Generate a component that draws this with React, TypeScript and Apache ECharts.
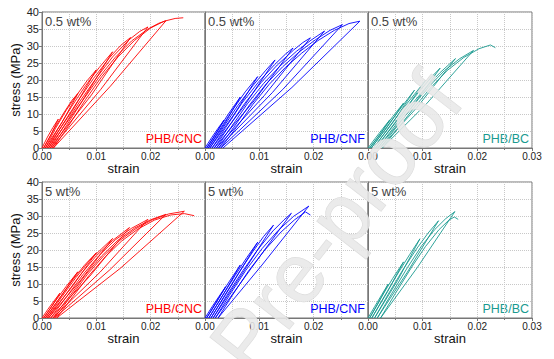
import React, { useEffect, useRef } from "react";
import * as echarts from "echarts";

// strain, stress (MPa) — cyclic loading/unloading curves
const cncLow: number[][] = [
  [0, 0], [0.001, 3.2], [0.002, 6], [0.003, 8.5], [0.0017, 4.0], [0.0003, 0],
  [0.002, 5], [0.004, 10.3], [0.0055, 14], [0.0066, 16], [0.0037, 7.6], [0.0006, 0],
  [0.0025, 5.8], [0.0045, 11.2], [0.0065, 15.8], [0.0083, 19.8], [0.01, 23], [0.0056, 11.0], [0.0009, 0],
  [0.003, 5.8], [0.0055, 12.3], [0.008, 18.3], [0.0105, 23.6], [0.013, 28.3], [0.0073, 13.6], [0.0012, 0],
  [0.0035, 6.2], [0.0065, 13.6], [0.0095, 20.5], [0.0125, 26.7], [0.0145, 30.2], [0.0163, 32.5], [0.0091, 15.6], [0.0015, 0],
  [0.004, 6.4], [0.007, 13.8], [0.01, 20.6], [0.013, 26.8], [0.016, 31.8], [0.018, 34.3], [0.0195, 35.6], [0.0108, 17.2], [0.0018, 0],
  [0.0045, 6.6], [0.0075, 14], [0.0105, 20.8], [0.0135, 26.7], [0.0165, 31.5], [0.0195, 35], [0.0215, 36.7], [0.0228, 37.4], [0.0126, 18.2], [0.0021, 0],
  [0.005, 6.8], [0.008, 14.2], [0.011, 21], [0.014, 26.8], [0.017, 31.6], [0.02, 35.3], [0.0225, 37.3], [0.0245, 38.1], [0.026, 38.3]
];
const cnfLow: number[][] = [
  [0, 0], [0.0012, 3], [0.0024, 5.8], [0.0035, 8.2], [0.0019, 3.9], [0.0003, 0],
  [0.0022, 4.8], [0.0043, 10], [0.0065, 15], [0.0036, 7.1], [0.0006, 0],
  [0.0028, 5.6], [0.005, 11], [0.0074, 16.5], [0.0097, 21], [0.0054, 10], [0.0009, 0],
  [0.0033, 5.9], [0.006, 12.4], [0.0088, 18.3], [0.0111, 22.7], [0.0129, 25.9], [0.0072, 12.3], [0.0013, 0],
  [0.0038, 6], [0.0068, 13.2], [0.0098, 19.3], [0.0128, 24.5], [0.0148, 27.6], [0.0162, 29.4], [0.0091, 14], [0.0017, 0],
  [0.0043, 6.1], [0.0073, 13.1], [0.0103, 19.2], [0.0133, 24.4], [0.0163, 28.8], [0.018, 31], [0.0194, 32.4], [0.0109, 15.4], [0.0021, 0],
  [0.0048, 6.1], [0.0078, 13], [0.0108, 19], [0.0138, 24.1], [0.0168, 28.4], [0.0195, 31.7], [0.022, 34.4], [0.0124, 16.3], [0.0025, 0],
  [0.0053, 6.1], [0.0083, 12.9], [0.0113, 18.9], [0.0143, 23.9], [0.0173, 28.2], [0.0203, 31.8], [0.023, 34.6], [0.0253, 36.3], [0.0143, 17.2], [0.0029, 0],
  [0.0058, 6.1], [0.0088, 12.8], [0.0118, 18.7], [0.0148, 23.7], [0.0178, 27.9], [0.0208, 31.6], [0.0238, 34.6], [0.0265, 36.6], [0.0285, 37.3], [0.016, 17.8], [0.0033, 0]
];
const bcLow: number[][] = [
  [0, 0], [0.0013, 2.8], [0.0027, 5.7], [0.004, 8.3], [0.0021, 3.8], [0.0003, 0],
  [0.0024, 4.5], [0.0045, 9.2], [0.0065, 13.2], [0.0034, 5.9], [0.0006, 0],
  [0.0028, 4.8], [0.0052, 10], [0.0072, 14.3], [0.0085, 17], [0.0046, 7.6], [0.001, 0],
  [0.0035, 5.4], [0.006, 10.8], [0.0085, 15.8], [0.0105, 19.8], [0.0058, 9], [0.0014, 0],
  [0.004, 5.5], [0.0068, 11.4], [0.0095, 16.9], [0.0118, 21.2], [0.0132, 23.5], [0.0074, 10.6], [0.0018, 0],
  [0.0045, 5.6], [0.0075, 11.9], [0.0105, 17.6], [0.0132, 22.2], [0.016, 26.3], [0.009, 12], [0.0022, 0],
  [0.005, 5.7], [0.008, 12], [0.011, 17.8], [0.014, 22.8], [0.0168, 26.3], [0.0193, 28.7], [0.0107, 13], [0.0026, 0],
  [0.0055, 5.8], [0.0085, 12], [0.0115, 17.8], [0.0145, 22.8], [0.0175, 26.6], [0.0203, 29.2], [0.0224, 30.3], [0.0233, 29.5]
];
const cncHigh: number[][] = [
  [0, 0], [0.0011, 2.6], [0.0022, 5], [0.0033, 7.3], [0.0018, 3.4], [0.0003, 0],
  [0.0022, 4.4], [0.0044, 9.2], [0.0066, 13.6], [0.0035, 6.4], [0.0006, 0],
  [0.003, 5.3], [0.0055, 10.9], [0.0078, 15.5], [0.01, 19.2], [0.0054, 8.9], [0.0009, 0],
  [0.0035, 5.9], [0.0062, 11.8], [0.0088, 17], [0.011, 20.4], [0.013, 23.4], [0.007, 10.9], [0.0012, 0],
  [0.004, 6.1], [0.007, 12.6], [0.01, 18.3], [0.013, 22.8], [0.0161, 26.6], [0.0088, 12.3], [0.0016, 0],
  [0.0045, 6.2], [0.0075, 12.7], [0.0105, 18.4], [0.0135, 23], [0.0165, 26.4], [0.0195, 29], [0.0107, 13.5], [0.002, 0],
  [0.005, 6.3], [0.008, 12.7], [0.011, 18.3], [0.014, 22.9], [0.017, 26.4], [0.02, 28.9], [0.0228, 30.5], [0.0125, 14.2], [0.0023, 0],
  [0.0053, 6.3], [0.0083, 12.7], [0.0113, 18.2], [0.0143, 22.8], [0.0173, 26.3], [0.0203, 28.9], [0.0233, 30.6], [0.0262, 31.4], [0.0144, 14.6], [0.0027, 0],
  [0.0057, 6.3], [0.0087, 12.6], [0.0117, 18.1], [0.0147, 22.7], [0.0177, 26.2], [0.0207, 28.8], [0.0237, 30.3], [0.0262, 30.7], [0.028, 30.1]
];
const cnfHigh: number[][] = [
  [0, 0], [0.0013, 3.3], [0.0026, 6.4], [0.0038, 9.2], [0.002, 4.3], [0.0003, 0],
  [0.0024, 5.6], [0.0045, 10.8], [0.0065, 15.6], [0.0035, 7.3], [0.0007, 0],
  [0.003, 6], [0.0055, 12.4], [0.0077, 17.8], [0.0097, 22.3], [0.0052, 10.5], [0.0011, 0],
  [0.0036, 6.6], [0.0063, 13.5], [0.0088, 19.5], [0.0108, 24], [0.0126, 27.3], [0.0068, 12.9], [0.0015, 0],
  [0.004, 6.6], [0.007, 14], [0.0098, 20.3], [0.0125, 25.6], [0.0145, 28.8], [0.0159, 30.8], [0.0085, 14.6], [0.0019, 0],
  [0.0045, 6.7], [0.0075, 14], [0.0105, 20.4], [0.0135, 25.8], [0.0163, 29.9], [0.0191, 32.9], [0.0105, 15.6], [0.0024, 0],
  [0.005, 6.6], [0.008, 13.8], [0.011, 20], [0.014, 25.3], [0.0165, 28.9], [0.0185, 31.2], [0.0194, 30.3]
];
const bcHigh: number[][] = [
  [0, 0], [0.0012, 3.3], [0.0025, 6.8], [0.0037, 10], [0.002, 4.7], [0.0003, 0],
  [0.0024, 6], [0.0045, 11.6], [0.0065, 16.5], [0.0036, 7.8], [0.0007, 0],
  [0.003, 6.4], [0.0055, 13.2], [0.0076, 18.6], [0.0095, 23.3], [0.0054, 11], [0.0012, 0],
  [0.0037, 7], [0.0065, 14.5], [0.009, 20.6], [0.011, 25], [0.0129, 28.6], [0.0072, 13.5], [0.0017, 0],
  [0.0043, 7.1], [0.0072, 14.8], [0.0098, 21.2], [0.0122, 26], [0.0142, 29.2], [0.0159, 31.3], [0.009, 14.8], [0.0023, 0],
  [0.005, 7.2], [0.008, 15], [0.0105, 21], [0.013, 26], [0.0148, 28.8], [0.0158, 29.7], [0.0165, 29]
];

const panelData = [cncLow, cnfLow, bcLow, cncHigh, cnfHigh, bcHigh];
const loadings = ["0.5 wt%", "0.5 wt%", "0.5 wt%", "5 wt%", "5 wt%", "5 wt%"];
const materials = ["PHB/CNC", "PHB/CNF", "PHB/BC", "PHB/CNC", "PHB/CNF", "PHB/BC"];
const colors = ["#ff0000", "#0000ff", "#1a9a90", "#ff0000", "#0000ff", "#1a9a90"];
const watermark = "Pre-proof";

const FONT = "Liberation Sans, Arial, sans-serif";

export default function App() {
  const ref = useRef<HTMLDivElement>(null);
  useEffect(() => {
    document.body.style.margin = "0";
    const chart = echarts.init(ref.current!, null, { renderer: "svg" });
    const lefts = [42, 205, 368];
    const widths = [163, 163, 164];
    const tops = [12, 182];
    const H = 136;
    const grids: any[] = [];
    const xAxes: any[] = [];
    const yAxes: any[] = [];
    const series: any[] = [];
    const graphics: any[] = [];
    for (let i = 0; i < 6; i++) {
      const col = i % 3;
      const row = Math.floor(i / 3);
      grids.push({
        left: lefts[col], top: tops[row], width: widths[col], height: H,
        show: true, borderColor: "#777", borderWidth: 1, backgroundColor: "transparent",
      });
      xAxes.push({
        gridIndex: i, type: "value", min: 0, max: 0.03, interval: 0.01,
        name: "strain", nameLocation: "middle", nameGap: 13,
        nameTextStyle: { fontSize: 13, color: "#111", fontFamily: FONT },
        axisLine: { show: true, onZero: false, lineStyle: { color: "#777" } },
        axisTick: { show: true, length: 3, lineStyle: { color: "#777" } },
        minorTick: { show: true, splitNumber: 2, length: 2, lineStyle: { color: "#777" } },
        splitLine: { show: true, lineStyle: { type: "dotted", color: "#c8c8c8" } },
        minorSplitLine: { show: true, lineStyle: { type: "dotted", color: "#c8c8c8" } },
        axisLabel: {
          fontSize: 10, color: "#222", margin: 3, fontFamily: FONT,
          showMaxLabel: col === 2, showMinLabel: true,
          formatter: (v: number) => v.toFixed(2),
        },
      });
      yAxes.push({
        gridIndex: i, type: "value", min: 0, max: 40, interval: 5,
        name: col === 0 ? "stress (MPa)" : "", nameLocation: "middle", nameGap: 20,
        nameTextStyle: { fontSize: 13, color: "#111", fontFamily: FONT },
        axisLine: { show: true, onZero: false, lineStyle: { color: "#777" } },
        axisTick: { show: col === 0, length: 3, lineStyle: { color: "#777" } },
        splitLine: { show: true, lineStyle: { type: "dotted", color: "#c8c8c8" } },
        axisLabel: { show: col === 0, fontSize: 11, color: "#222", margin: 3, fontFamily: FONT },
      });
      series.push({
        type: "line", xAxisIndex: i, yAxisIndex: i, data: panelData[i],
        showSymbol: false, symbol: "none", clip: true,
        lineStyle: { color: colors[i], width: 0.9 },
      });
      graphics.push({
        type: "text", left: lefts[col] + 3, top: tops[row] + 3,
        style: { text: loadings[i], fontSize: 13, fill: "#444", fontFamily: FONT },
      });
      graphics.push({
        type: "text", x: lefts[col] + widths[col] - 3, y: tops[row] + H - 3,
        style: {
          text: materials[i], fontSize: 12.5, fill: colors[i], fontFamily: FONT,
          align: "right", verticalAlign: "bottom",
        },
      });
    }
    graphics.push({
      type: "text", x: 336, y: 222, rotation: 0.91, z: 100,
      style: {
        text: watermark, fontSize: 84, fontFamily: FONT,
        fill: "rgba(232,232,232,0.88)", stroke: "rgba(215,215,215,0.9)", lineWidth: 1,
        align: "center", verticalAlign: "middle",
      },
    });
    chart.setOption({
      animation: false,
      backgroundColor: "#fff",
      grid: grids,
      xAxis: xAxes,
      yAxis: yAxes,
      series,
      graphic: graphics,
    });
    return () => chart.dispose();
  }, []);
  return <div ref={ref} style={{ width: 554, height: 359 }} />;
}
